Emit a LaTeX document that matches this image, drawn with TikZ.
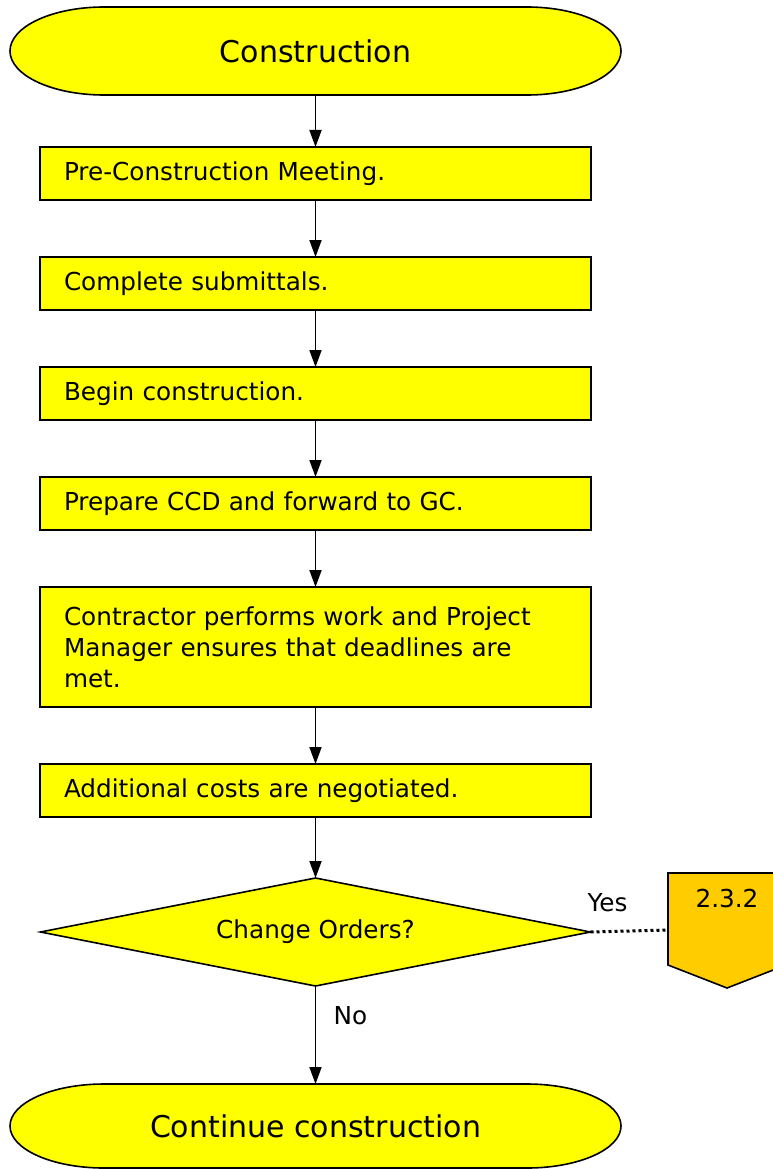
\documentclass[tikz,border=0pt]{standalone}
\usepackage{fontspec}
\setmainfont{DejaVu Sans}
\usetikzlibrary{positioning, shapes.geometric, arrows.meta, backgrounds}

\definecolor{flowyellow}{HTML}{FFFF00}
\definecolor{refgold}{HTML}{FFCC00}

\begin{document}
\begin{tikzpicture}[x=1pt, y=-1pt, node distance=57pt,
        every node/.style={font=\fontsize{24.7}{31}\selectfont},
        term/.style={minimum width=611pt, inner sep=0pt, outer sep=0pt, font=\fontsize{30}{34}\selectfont},
        proc/.style={draw, line width=1.6pt, fill=flowyellow, minimum width=551pt, minimum height=53pt,
            text width=503pt, inner xsep=24pt, inner ysep=0pt, outer sep=0pt, align=left},
        decision/.style={diamond, draw, line width=1.6pt, fill=flowyellow, aspect=5,
            minimum width=550pt, minimum height=108pt, inner sep=0pt, outer sep=0pt},
        flow/.style={-{Triangle[length=17pt, width=12pt]}, line width=1.8pt},
        offpage/.style={line width=3pt, dash pattern=on 3pt off 3pt}]
    \useasboundingbox (0,0) rectangle (773,1169);

    \node[term, minimum height=88pt] (start) at (315.5,51) {Construction};
    \node[proc] (meet) at (315.5,173.5) {Pre-Construction Meeting.};
    \node[proc, below=of meet] (submit) {Complete submittals.};
    \node[proc, below=of submit] (begin) {Begin construction.};
    \node[proc, below=of begin] (ccd) {Prepare CCD and forward to GC.};
    \node[proc, below=of ccd, minimum height=120pt] (work) {Contractor performs work and Project\\Manager ensures that deadlines are\\met.};
    \node[proc, below=of work] (costs) {Additional costs are negotiated.};
    \node[decision, below=61pt of costs] (orders) {Change Orders?};
    \node[term, minimum height=84pt, below=98pt of orders] (stop) {Continue construction};
    \node (ref) at (727,898) {2.3.2};
    \coordinate (refin) at (668,930);

    % terminals and off-page reference behind the text
    \begin{scope}[on background layer]
        \foreach \nd/\ry in {start/44, stop/42}
            \draw[line width=1.6pt, fill=flowyellow]
                ([xshift=94pt]\nd.north west) -- ([xshift=-94pt]\nd.north east)
                arc[start angle=90, end angle=-90, x radius=94pt, y radius=\ry pt]
                -- ([xshift=94pt]\nd.south west)
                arc[start angle=270, end angle=90, x radius=94pt, y radius=\ry pt] -- cycle;
        \draw[line width=1.6pt, fill=refgold]
            (668,873) -- (786,873) -- (786,965) -- (727,988) -- (668,965) -- cycle;
    \end{scope}

    \draw[flow] (start) -- (meet);
    \draw[flow] (meet) -- (submit);
    \draw[flow] (submit) -- (begin);
    \draw[flow] (begin) -- (ccd);
    \draw[flow] (ccd) -- (work);
    \draw[flow] (work) -- (costs);
    \draw[flow] (costs) -- (orders);
    \draw[flow] (orders) -- node[pos=0.3, right=14pt] {No} (stop);
    \draw[offpage] (orders.east) -- node[pos=0.22, above=15pt] {Yes} (refin);
\end{tikzpicture}
\end{document}
